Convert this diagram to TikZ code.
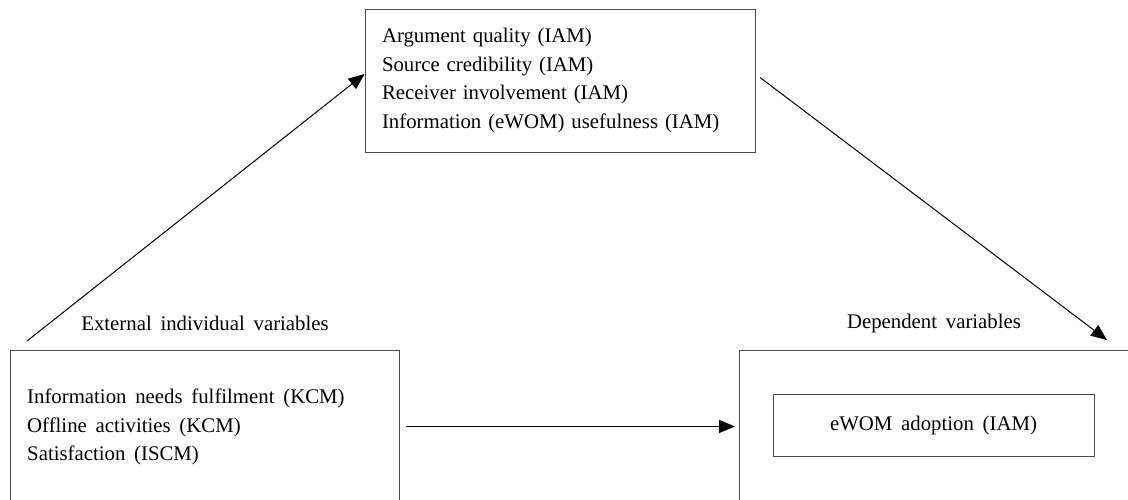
\documentclass[tikz,border=0pt]{standalone}
\usepackage{fontspec}
\setmainfont{Liberation Serif}
\usetikzlibrary{arrows.meta,calc}
\newcommand{\diagfont}{\fontsize{20.8}{28.5}\selectfont\spaceskip=0.42em plus 0.1em\relax}
\begin{document}
\begin{tikzpicture}[x=1pt,y=-1pt,
  every node/.style={font=\diagfont},
  box/.style={draw=black!70,line width=1pt,inner sep=0pt},
  conn/.style={draw=black,line width=1pt,-{Triangle[length=16pt,width=13pt]}},
  lbl/.style={inner sep=0pt}
]
\clip (0,0) rectangle (1128,499);
\fill[white] (0,0) rectangle (1128,499);
% top box
\node[box,minimum width=390,minimum height=143,text width=356,align=left,inner xsep=17] (iam) at (560,80.5)
  {Argument quality (IAM)\\Source credibility (IAM)\\Receiver involvement (IAM)\\Information (eWOM) usefulness (IAM)};
% bottom left box
\node[box,minimum width=389,minimum height=152,anchor=north west] (ext) at (10,350) {};
\node[lbl,anchor=west,align=left] (extlist) at (27,427)
  {Information needs fulfilment (KCM)\\Offline activities (KCM)\\Satisfaction (ISCM)};
\node[lbl] (extlbl) at (205,323) {External individual variables};
% bottom right box
\node[box,minimum width=500,minimum height=152,anchor=north west] (dep) at (739,350) {};
\node[lbl] (deplbl) at (934,323) {Dependent variables};
\node[box,minimum width=321,minimum height=62] (adopt) at (933.5,425) {eWOM adoption (IAM)};
% connectors
\coordinate (start1) at (27,341);
\coordinate (end2) at (1107,340);
\draw[conn] (start1) -- ($(iam.north west)!0.455!(iam.south west)$);
\draw[conn,shorten <=6pt] ($(iam.north east)!0.455!(iam.south east)$) -- (end2);
\draw[conn,shorten <=6pt,shorten >=4pt] (ext.east) -- (dep.west);
\end{tikzpicture}
\end{document}
